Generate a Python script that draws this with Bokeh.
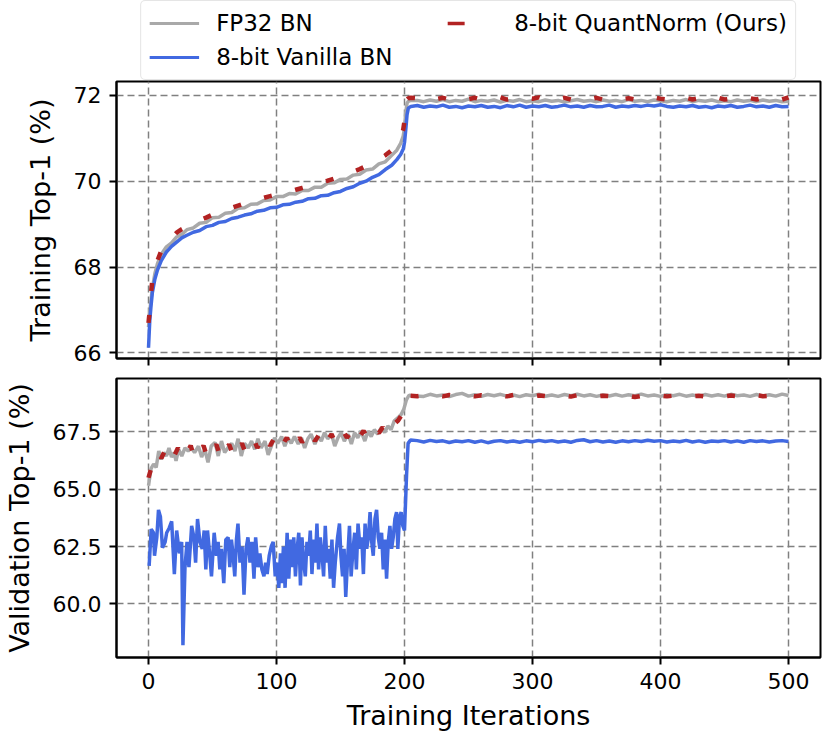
from bokeh.plotting import figure
from bokeh.models import (Legend, LegendItem, FixedTicker, PrintfTickFormatter, Range1d,
                          CustomJSTickFormatter)
from bokeh.layouts import column
from bokeh.embed import file_html
from bokeh.resources import INLINE

FONT = "DejaVu Sans"
C_FP32 = "#a9a9a9"
C_VAN = "#4169e1"
C_QN = "#b22222"

labels = ["FP32 BN", "8-bit Vanilla BN", "8-bit QuantNorm (Ours)"]
x_ticks = [0, 100, 200, 300, 400, 500]
train_y_ticks = [66, 68, 70, 72]
val_y_ticks = [60.0, 62.5, 65.0, 67.5]

# ---------- training top-1 ----------
train_x_head = [0, 1, 2, 3, 5, 7, 10, 14, 18, 22, 26,
                30, 35, 40, 45, 50, 55, 60, 65, 70, 75, 80, 85, 90, 95, 100,
                105, 110, 115, 120, 125, 130, 135, 140, 145, 150, 155, 160, 165,
                170, 175, 180, 185, 190, 194, 197, 199, 200, 201, 202, 203, 205]
flat_x = [210, 215, 220, 225, 230, 235, 240, 245, 250, 255, 260, 265, 270, 275, 280,
          285, 290, 295, 300, 305, 310, 315, 320, 325, 330, 335, 340, 345, 350, 355,
          360, 365, 370, 375, 380, 385, 390, 395, 400, 405, 410, 415, 420, 425, 430,
          435, 440, 445, 450, 455, 460, 465, 470, 475, 480, 485, 490, 495, 500]

train_fp32_head = [66.60, 66.95, 67.25, 67.50, 67.85, 68.08, 68.30, 68.47, 68.56, 68.70, 68.76,
                   68.87, 68.91, 69.02, 69.04, 69.15, 69.16, 69.25, 69.27, 69.37, 69.38,
                   69.46, 69.47, 69.55, 69.56, 69.64, 69.64, 69.71, 69.70, 69.78, 69.78,
                   69.86, 69.86, 69.95, 69.96, 70.04, 70.05, 70.14, 70.16, 70.26, 70.28,
                   70.40, 70.45, 70.60, 70.72, 70.88, 71.05, 71.25, 71.60, 71.82, 71.86, 71.88]
train_fp32_flat = [71.88, 71.85, 71.89, 71.86, 71.90, 71.85, 71.88, 71.86, 71.91, 71.85,
                   71.88, 71.86, 71.89, 71.84, 71.88, 71.86, 71.90, 71.85, 71.87, 71.85,
                   71.89, 71.86, 71.88, 71.84, 71.87, 71.90, 71.86, 71.88, 71.85, 71.89,
                   71.86, 71.88, 71.85, 71.90, 71.86, 71.88, 71.85, 71.89, 71.87, 71.85,
                   71.88, 71.86, 71.90, 71.85, 71.88, 71.86, 71.89, 71.85, 71.87, 71.85,
                   71.89, 71.86, 71.88, 71.85, 71.89, 71.86, 71.88, 71.85, 71.86]

train_van_head = [66.12, 66.75, 67.10, 67.40, 67.72, 67.93, 68.15, 68.35, 68.48, 68.58, 68.68,
                  68.74, 68.81, 68.85, 68.94, 68.97, 69.04, 69.06, 69.13, 69.16, 69.21,
                  69.24, 69.30, 69.32, 69.38, 69.39, 69.45, 69.46, 69.51, 69.53, 69.59,
                  69.60, 69.66, 69.67, 69.73, 69.76, 69.83, 69.87, 69.95, 70.00, 70.09,
                  70.15, 70.27, 70.37, 70.50, 70.62, 70.75, 70.90, 71.20, 71.55, 71.70, 71.74]
train_van_flat = [71.76, 71.72, 71.75, 71.73, 71.77, 71.72, 71.74, 71.71, 71.75, 71.73,
                  71.76, 71.72, 71.74, 71.71, 71.76, 71.73, 71.77, 71.72, 71.75, 71.73,
                  71.76, 71.72, 71.74, 71.77, 71.73, 71.75, 71.72, 71.76, 71.73, 71.74,
                  71.77, 71.72, 71.75, 71.73, 71.76, 71.74, 71.77, 71.75, 71.78, 71.74,
                  71.72, 71.75, 71.73, 71.76, 71.72, 71.74, 71.71, 71.75, 71.73, 71.76,
                  71.72, 71.74, 71.77, 71.73, 71.75, 71.72, 71.76, 71.73, 71.74]

train_qn_head = [66.70, 67.00, 67.40, 67.70, 67.98, 68.15, 68.38, 68.55, 68.68, 68.80, 68.88,
                 68.94, 69.02, 69.09, 69.15, 69.22, 69.27, 69.32, 69.38, 69.43, 69.48,
                 69.52, 69.56, 69.61, 69.65, 69.69, 69.73, 69.76, 69.80, 69.84, 69.88,
                 69.92, 69.97, 70.01, 70.06, 70.11, 70.16, 70.22, 70.28, 70.35, 70.42,
                 70.51, 70.60, 70.72, 70.86, 71.02, 71.20, 71.40, 71.75, 71.90, 71.93, 71.94]
train_qn_flat = [71.93, 71.90, 71.95, 71.91, 71.94, 71.90, 71.93, 71.96, 71.91, 71.94,
                 71.90, 71.93, 71.91, 71.95, 71.90, 71.93, 71.91, 71.94, 71.92, 71.95,
                 71.90, 71.93, 71.91, 71.94, 71.90, 71.93, 71.95, 71.91, 71.94, 71.90,
                 71.92, 71.95, 71.91, 71.93, 71.90, 71.94, 71.91, 71.95, 71.92, 71.90,
                 71.93, 71.91, 71.94, 71.90, 71.93, 71.95, 71.91, 71.94, 71.90, 71.92,
                 71.95, 71.91, 71.93, 71.90, 71.94, 71.91, 71.93, 71.90, 71.95]

# ---------- validation top-1 ----------
val_fp32_x_head = [0, 2, 4, 6, 8, 10, 12, 14, 16, 18, 20, 21.5, 23.5, 26, 28.5, 31, 33.5, 36,
                   39, 41.5, 44, 46.5, 49, 52, 54.5, 57, 59.5, 62, 65, 67.5, 70, 72.5, 75,
                   78, 80.5, 83, 85.5, 88, 91, 93.5, 96, 98.5, 101, 104, 106.5, 109, 111.5,
                   114, 117, 119.5, 122, 124.5, 127, 130, 132.5, 135, 137.5, 140, 143, 145.5,
                   148, 150.5, 153, 156, 158.5, 161, 163.5, 166, 169, 171.5, 174, 176.5, 179,
                   182, 184.5, 187, 189.5, 192, 195, 197.5, 199.5, 201.5, 203.5, 206]
val_fp32_head = [65.15, 65.90, 66.10, 65.95, 66.67, 66.30, 66.60, 66.45, 66.80, 66.40, 66.60,
                 66.24, 66.74, 66.45, 66.80, 66.67, 66.80, 66.60, 66.88, 66.40, 66.74, 66.17,
                 66.88, 67.04, 66.45, 67.10, 66.60, 66.80, 67.00, 66.67, 67.20, 66.45, 67.00,
                 66.80, 67.10, 66.74, 67.20, 66.80, 67.10, 66.50, 66.88, 67.24, 67.00, 67.30,
                 66.88, 67.24, 67.00, 67.30, 66.97, 67.24, 66.80, 67.20, 67.40, 66.97, 67.30,
                 67.10, 67.47, 67.20, 67.40, 66.88, 67.24, 67.47, 67.10, 67.40, 66.97, 67.47,
                 67.24, 67.54, 67.10, 67.54, 67.30, 67.60, 67.40, 67.70, 67.47, 67.76, 67.60,
                 67.98, 68.12, 68.27, 68.50, 68.90, 69.10, 69.08]
val_fp32_flat = [69.12, 69.05, 69.14, 69.07, 69.11, 69.04, 69.13, 69.18, 69.06, 69.12,
                 69.05, 69.13, 69.08, 69.14, 69.06, 69.11, 69.04, 69.12, 69.08, 69.15,
                 69.06, 69.11, 69.05, 69.13, 69.08, 69.14, 69.07, 69.12, 69.05, 69.11,
                 69.07, 69.13, 69.06, 69.12, 69.08, 69.15, 69.07, 69.11, 69.05, 69.12,
                 69.08, 69.14, 69.06, 69.11, 69.05, 69.13, 69.07, 69.12, 69.06, 69.14,
                 69.08, 69.11, 69.05, 69.13, 69.07, 69.12, 69.06, 69.15, 69.09]

val_van_x_head = [0.5, 2.1, 3.9, 4.7, 6.5, 7.8, 9.3, 10.9, 13.0, 14.2, 16.1, 18.1, 20.2, 22.0,
                  24.1, 25.9, 26.9, 28.5, 30.1, 31.6, 33.7, 35.5, 36.8, 38.3, 40.2, 42.0,
                  43.5, 44.8, 46.1, 47.9, 49.2, 51.3, 53.1, 54.4, 55.7, 57.0, 58.8, 60.4,
                  62.2, 63.5, 64.8, 66.1, 67.4, 68.7, 69.9, 71.5, 73.1, 74.6, 76.2, 77.7,
                  79.3, 80.8, 82.4, 83.7, 85.5, 87.0, 88.6, 90.2, 91.5, 92.7, 94.3, 95.9,
                  97.4, 99.0, 100.5, 101.8, 103.1, 104.1, 105.4, 106.7, 108.3, 109.6, 110.9,
                  112.2, 113.5, 114.8, 116.1, 117.4, 118.7, 119.9, 121.2, 122.5, 123.8,
                  125.1, 126.4, 127.7, 129.0, 130.3, 131.6, 132.9, 134.2, 135.5, 136.8,
                  138.1, 139.4, 140.7, 142.0, 143.3, 144.6, 145.9, 147.7, 149.2, 150.3,
                  151.6, 152.8, 154.1, 155.4, 157.0, 158.3, 159.8, 161.1, 162.4, 163.7,
                  165.3, 166.6, 167.9, 169.2, 170.5, 171.8, 173.1, 174.4, 175.6, 176.9,
                  178.2, 179.5, 180.8, 182.1, 183.4, 184.7, 186.0, 187.3, 188.6, 189.9,
                  191.2, 192.5, 193.8, 194.8, 196.1, 197.4, 198.7, 200.0, 201.6, 202.8, 204.7]
val_van_head = [61.66, 63.26, 63.10, 62.10, 62.90, 64.10, 63.80, 62.45, 62.70, 63.10, 63.30,
                63.60, 61.30, 63.20, 62.20, 62.70, 58.20, 61.60, 62.70, 61.60, 63.40, 62.90,
                61.80, 63.70, 62.70, 62.40, 63.20, 61.50, 63.20, 62.10, 61.20, 63.10, 62.10,
                62.70, 61.50, 62.40, 60.90, 62.80, 62.90, 61.60, 62.80, 62.10, 61.20, 62.80,
                63.50, 61.80, 62.50, 60.40, 62.40, 62.90, 61.80, 62.70, 61.10, 62.90, 61.60,
                62.20, 61.50, 61.20, 61.80, 61.30, 62.10, 62.50, 62.70, 61.20, 61.80, 60.70,
                62.20, 60.90, 62.50, 60.70, 63.10, 61.10, 62.80, 61.60, 62.90, 61.20, 62.40,
                63.10, 60.80, 62.90, 61.80, 61.20, 62.70, 62.10, 63.20, 61.30, 62.80, 61.80,
                63.50, 61.50, 62.90, 62.20, 61.20, 63.40, 61.80, 62.40, 61.10, 62.80, 60.70,
                61.80, 62.90, 63.50, 62.10, 61.20, 62.40, 60.30, 61.80, 63.40, 61.20, 62.40,
                63.10, 61.50, 63.50, 62.40, 62.90, 61.30, 63.50, 62.40, 62.90, 64.00, 62.70,
                62.10, 63.70, 64.10, 62.90, 62.40, 63.10, 61.50, 62.80, 61.10, 62.70, 63.40,
                62.40, 62.90, 63.70, 64.00, 62.40, 63.80, 64.00, 63.40, 63.20, 65.60, 67.00,
                67.15]
val_van_flat = [67.12, 67.06, 67.13, 67.08, 67.11, 67.04, 67.10, 67.07, 67.12, 67.05,
                67.11, 67.03, 67.09, 67.12, 67.06, 67.10, 67.05, 67.11, 67.07, 67.13,
                67.08, 67.12, 67.06, 67.10, 67.05, 67.13, 67.16, 67.07, 67.12, 67.06,
                67.10, 67.05, 67.11, 67.07, 67.12, 67.08, 67.14, 67.09, 67.12, 67.06,
                67.10, 67.07, 67.13, 67.06, 67.11, 67.05, 67.10, 67.08, 67.12, 67.06,
                67.11, 67.05, 67.12, 67.08, 67.11, 67.06, 67.10, 67.12, 67.08]

val_qn_x_head = [0, 2, 5, 8, 10, 13, 15, 18, 20, 23, 25, 28, 30, 33, 35, 38, 40, 43, 45, 48,
                 50, 53, 55, 58, 60, 63, 65, 68, 70, 73, 75, 78, 80, 83, 85, 88, 90, 93, 95,
                 98, 100, 103, 105, 108, 110, 113, 115, 118, 120, 123, 125, 128, 130, 133,
                 135, 138, 140, 143, 145, 148, 150, 153, 155, 158, 160, 163, 165, 168, 170,
                 173, 175, 178, 180, 183, 185, 188, 190, 193, 195, 198, 200, 202, 204]
val_qn_head = [65.50, 65.90, 66.20, 66.60, 66.35, 66.70, 66.50, 66.75, 66.45, 66.80, 66.55,
               66.85, 66.60, 66.90, 66.50, 66.80, 66.60, 66.90, 66.55, 66.95, 66.70, 66.95,
               66.60, 67.00, 66.70, 66.95, 66.65, 67.05, 66.75, 67.00, 66.70, 67.05, 66.85,
               67.10, 66.80, 67.15, 66.85, 67.10, 66.90, 67.20, 66.95, 67.20, 66.95, 67.25,
               67.00, 67.30, 67.00, 67.25, 67.05, 67.30, 67.05, 67.35, 67.10, 67.35, 67.10,
               67.40, 67.15, 67.40, 67.15, 67.45, 67.20, 67.45, 67.25, 67.50, 67.25, 67.50,
               67.30, 67.55, 67.35, 67.60, 67.40, 67.60, 67.45, 67.70, 67.50, 67.75, 67.60,
               67.90, 68.00, 68.25, 68.60, 69.00, 69.08]
val_qn_flat = [69.06, 69.10, 69.04, 69.09, 69.05, 69.11, 69.07, 69.03, 69.09, 69.05,
               69.10, 69.06, 69.04, 69.09, 69.05, 69.11, 69.06, 69.08, 69.04, 69.09,
               69.06, 69.10, 69.05, 69.08, 69.04, 69.10, 69.06, 69.09, 69.05, 69.08,
               69.06, 69.10, 69.04, 69.08, 69.02, 69.07, 69.10, 69.06, 69.09, 69.05,
               69.08, 69.06, 69.10, 69.05, 69.08, 69.04, 69.09, 69.06, 69.05, 69.09,
               69.06, 69.08, 69.04, 69.10, 69.06, 69.08, 69.05, 69.09, 69.07]

LW = 3.5
QLW = 4.5
QDASH = "8 24"
NAN = float("nan")


def style(p, show_x_labels):
    p.outline_line_color = "black"
    p.outline_line_width = 2
    p.background_fill_color = "white"
    p.border_fill_color = "white"
    for ax in (p.xaxis[0], p.yaxis[0]):
        ax.axis_line_color = "black"
        ax.axis_line_width = 2
        ax.major_tick_line_color = "black"
        ax.major_tick_line_width = 2
        ax.major_tick_out = 7
        ax.major_tick_in = 0
        ax.minor_tick_line_color = None
        ax.major_label_text_font = FONT
        ax.major_label_text_font_size = "22px"
        ax.major_label_text_color = "black"
        ax.major_label_standoff = 8
        ax.axis_label_text_font = FONT
        ax.axis_label_text_font_size = "27px"
        ax.axis_label_text_font_style = "normal"
        ax.axis_label_text_color = "black"
        ax.axis_label_standoff = 15
    p.xaxis.ticker = FixedTicker(ticks=x_ticks)
    if not show_x_labels:
        p.xaxis.formatter = CustomJSTickFormatter(code="return ''")
        p.xaxis.major_label_standoff = 0
    for g in (p.xgrid[0], p.ygrid[0]):
        g.grid_line_color = "#808080"
        g.grid_line_width = 1.5
        g.grid_line_dash = "7 4"


# ---------- legend strip ----------
leg = figure(width=822, height=80, output_backend="svg", toolbar_location=None,
             x_range=Range1d(0, 1), y_range=Range1d(0, 1),
             min_border_left=116, min_border_right=2, min_border_top=0, min_border_bottom=0)
leg.axis.visible = False
leg.grid.visible = False
leg.outline_line_color = None
h_fp = leg.line([NAN], [NAN], line_color=C_FP32, line_width=3)
h_van = leg.line([NAN], [NAN], line_color=C_VAN, line_width=3)
h_qn = leg.line([NAN], [NAN], line_color=C_QN, line_width=3.5, line_dash="17 40")
legend = Legend(items=[LegendItem(label=labels[0], renderers=[h_fp]),
                       LegendItem(label=labels[1], renderers=[h_van]),
                       LegendItem(label=labels[2], renderers=[h_qn])],
                ncols=2, location="center")
legend.label_text_font = FONT
legend.label_text_font_size = "23px"
legend.label_text_color = "black"
legend.glyph_width = 50
legend.glyph_height = 28
legend.label_height = 28
legend.label_width = 225
legend.label_standoff = 17
legend.spacing = 6
legend.padding = 8
legend.margin = 0
legend.border_line_color = "#cccccc"
legend.border_line_width = 1.5
legend.background_fill_alpha = 1
if "border_radius" in Legend.properties():
    legend.border_radius = 5
leg.add_layout(legend)

# ---------- training ----------
top = figure(width=822, height=288, output_backend="svg", toolbar_location=None,
             x_range=Range1d(-25, 525), y_range=Range1d(65.87, 72.32),
             min_border_left=116, min_border_right=2, min_border_top=1, min_border_bottom=10)
style(top, False)
top.yaxis.ticker = FixedTicker(ticks=train_y_ticks)
top.yaxis.axis_label = "Training Top-1 (%)"

tx = train_x_head + flat_x
top.line(tx, train_fp32_head + train_fp32_flat, line_color=C_FP32, line_width=LW)
top.line(tx, train_van_head + train_van_flat, line_color=C_VAN, line_width=LW)
top.line(tx, train_qn_head + train_qn_flat, line_color=C_QN, line_width=QLW, line_dash=QDASH)

# ---------- validation ----------
bot = figure(width=822, height=366, output_backend="svg", toolbar_location=None,
             x_range=top.x_range, y_range=Range1d(57.66, 69.83),
             min_border_left=116, min_border_right=2, min_border_top=10, min_border_bottom=77)
style(bot, True)
bot.yaxis.ticker = FixedTicker(ticks=val_y_ticks)
bot.yaxis.formatter = PrintfTickFormatter(format="%.1f")
bot.yaxis.axis_label = "Validation Top-1 (%)"
bot.xaxis.axis_label = "Training Iterations"
bot.xaxis.axis_label_standoff = 8

bot.line(val_fp32_x_head + flat_x[1:], val_fp32_head + val_fp32_flat[1:], line_color=C_FP32, line_width=LW)
bot.line(val_van_x_head + flat_x, val_van_head + val_van_flat, line_color=C_VAN, line_width=LW)
bot.line(val_qn_x_head + flat_x, val_qn_head + val_qn_flat, line_color=C_QN, line_width=QLW, line_dash=QDASH)

layout = column(leg, top, bot, spacing=0)
open("out.html", "w").write(file_html(layout, INLINE))
